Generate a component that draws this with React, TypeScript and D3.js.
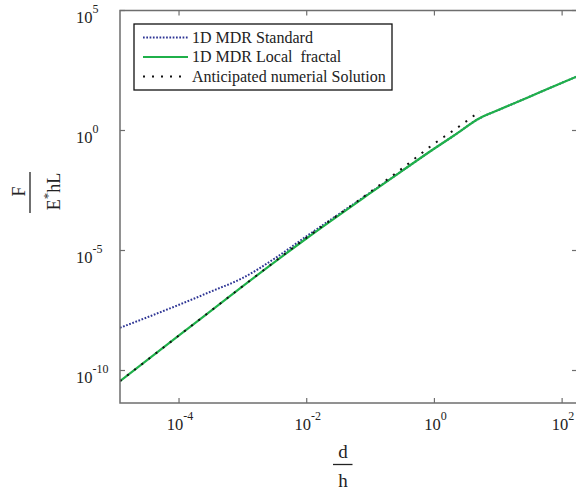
import React from 'react';
import * as d3 from 'd3';

// ---- data ----
const standardD = [1.19e-5, 1e-4, 3.16e-4, 1e-3, 3.16e-3, 1e-2, 3.16e-2, 0.1, 0.316, 1, 2, 5.18, 10, 31.6, 100, 171];
const standardF = [6.03e-9, 5.5e-8, 1.95e-7, 7.24e-7, 4.68e-6, 3.98e-5, 3.24e-4, 2.63e-3, 0.0214, 0.178, 0.603, 3.31, 7.08, 26.3, 97.7, 178];

const fractalD = [1.19e-5, 1e-4, 9e-4, 1e-2, 0.1, 0.316, 1, 2, 5.18, 10, 31.6, 100, 171];
const fractalF = [3.63e-11, 2.88e-9, 2.66e-7, 3.24e-5, 2.51e-3, 0.0214, 0.178, 0.603, 3.31, 7.08, 26.3, 97.7, 178];

const numericD = [1.19e-5, 1e-4, 9e-4, 1e-2, 0.1, 0.316, 1, 2, 3.98, 5.18];
const numericF = [3.63e-11, 2.88e-9, 2.66e-7, 3.47e-5, 2.82e-3, 0.0269, 0.288, 1.02, 3.8, 6.46];

const xTickExps = [-4, -2, 0, 2];
const yTickExps = [5, 0, -5, -10];

const legendLabels = ['1D MDR Standard', '1D MDR Local  fractal', 'Anticipated numerial Solution'];

// ---- layout ----
const W = 576;
const H = 493;
const left = 120;
const right = 577;
const top = 10.5;
const bottom = 403;
const FONT = '"Liberation Serif", "Times New Roman", serif';
const AXIS = '#6e6e6e';

const BLUE = '#2d3494';
const GREEN = '#1fb04a';

const txt = { fontFamily: FONT };

export default function App() {
  const x = d3.scaleLog().domain([1.19e-5, 171]).range([left, right]);
  const y = d3.scaleLog().domain([Math.pow(10, -11.354), 1e5]).range([bottom, top]);

  const mk = (ds: number[], fs: number[]) =>
    d3
      .line<number>()
      .x((_, i) => x(ds[i]))
      .y((_, i) => y(fs[i]))
      .curve(d3.curveMonotoneX)(ds) as string;

  const series = [
    { d: mk(standardD, standardF), color: BLUE, width: 2, dash: '1.7 1.6' },
    { d: mk(fractalD, fractalF), color: GREEN, width: 2.2, dash: undefined },
    { d: mk(numericD, numericF), color: '#111', width: 2, dash: '2 7' },
  ];

  const legendX = 134;
  const legendY = 24;
  const legendW = 258;
  const legendH = 66;
  const entryY = [37.5, 57, 76.5];

  return (
    <svg
      width={W}
      height={H}
      style={{ position: 'fixed', left: 0, top: 0, background: '#fff' }}
    >
      <defs>
        <clipPath id="plotclip">
          <rect x={left} y={top} width={right - left} height={bottom - top} />
        </clipPath>
      </defs>
      <rect x={0} y={0} width={W} height={H} fill="#fff" />

      {/* series */}
      <g clipPath="url(#plotclip)">
        {series.map((s, i) => (
          <path
            key={i}
            d={s.d}
            fill="none"
            stroke={s.color}
            strokeWidth={s.width}
            strokeDasharray={s.dash}
          />
        ))}
      </g>

      {/* axes box */}
      <rect x={left} y={top} width={right - left} height={bottom - top} fill="none" stroke={AXIS} strokeWidth={1.5} />

      {/* x ticks */}
      {xTickExps.map((e) => {
        const px = x(Math.pow(10, e));
        return (
          <g key={'x' + e}>
            <line x1={px} x2={px} y1={bottom} y2={bottom - 5} stroke={AXIS} strokeWidth={1.2} />
            <line x1={px} x2={px} y1={top} y2={top + 5} stroke={AXIS} strokeWidth={1.2} />
            <text x={px + 1} y={430} textAnchor="middle" fontSize={16.5} fill="#222" style={txt}>
              10
              <tspan fontSize={12} dy={-10}>{e}</tspan>
            </text>
          </g>
        );
      })}

      {/* y ticks */}
      {yTickExps.map((e) => {
        const py = y(Math.pow(10, e));
        return (
          <g key={'y' + e}>
            <line x1={left} x2={left + 5} y1={py} y2={py} stroke={AXIS} strokeWidth={1.2} />
            <line x1={right - 5} x2={right} y1={py} y2={py} stroke={AXIS} strokeWidth={1.2} />
            <text x={76} y={py + 12.8} textAnchor="start" fontSize={16.5} fill="#222" style={txt}>
              10
              <tspan fontSize={12} dy={-10}>{e}</tspan>
            </text>
          </g>
        );
      })}

      {/* x label: d / h */}
      <g fill="#222" fontSize={19}>
        <text x={343} y={458} textAnchor="middle" style={txt}>d</text>
        <line x1={333} x2={352.5} y1={464.5} y2={464.5} stroke="#222" strokeWidth={1.3} />
        <text x={343} y={487} textAnchor="middle" style={txt}>h</text>
      </g>

      {/* y label: F / E*hL */}
      <g transform="translate(30,192.5) rotate(-90)" fill="#222" fontSize={18}>
        <text x={1} y={-5} textAnchor="middle" style={txt}>F</text>
        <line x1={-20.5} x2={20.5} y1={0} y2={0} stroke="#222" strokeWidth={1.3} />
        <text x={1} y={30} textAnchor="middle" style={txt}>
          E<tspan fontSize={13} dy={-8}>*</tspan>
          <tspan dy={8}>hL</tspan>
        </text>
      </g>

      {/* legend */}
      <rect x={legendX} y={legendY} width={legendW} height={legendH} fill="#fff" stroke="#111" strokeWidth={1.3} />
      {series.map((s, i) => (
        <g key={'lg' + i}>
          <line
            x1={143}
            x2={188}
            y1={entryY[i]}
            y2={entryY[i]}
            stroke={s.color}
            strokeWidth={s.width}
            strokeDasharray={s.dash}
          />
          <text x={192} y={entryY[i] + 5} fontSize={16} fill="#222" style={{ ...txt, whiteSpace: 'pre' }}>
            {legendLabels[i]}
          </text>
        </g>
      ))}
    </svg>
  );
}
